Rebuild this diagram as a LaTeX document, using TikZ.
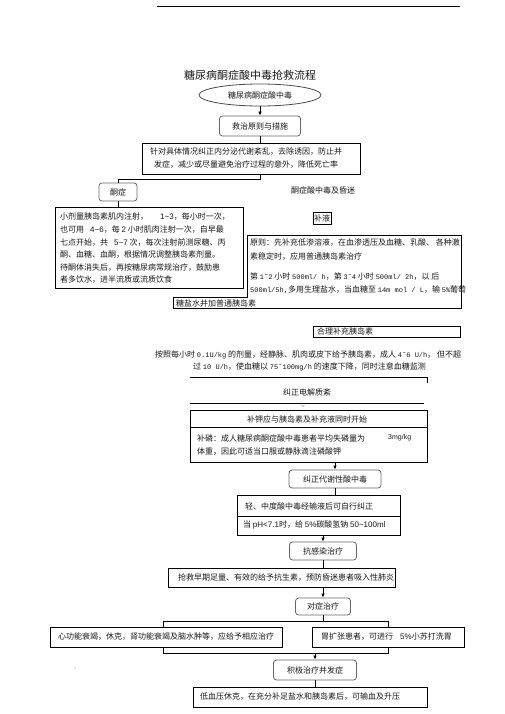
\documentclass[tikz,border=0pt]{standalone}
\usepackage{fontspec}
\setmainfont{Liberation Serif}
\newfontfamily\cjk{Noto Sans CJK SC}
\newfontfamily\sans{Liberation Sans}
\newfontfamily\mono{Liberation Mono}
\usetikzlibrary{shapes.geometric,arrows.meta,calc}
\newcommand\sn[1]{{\sans #1}}
\newcommand\mn[1]{{\mono\fontsize{7}{8}\selectfont #1}}
\newcommand\tld{\textasciitilde}
\begin{document}
\begin{tikzpicture}[x=1pt,y=-1pt,
  txt/.style={font=\cjk\fontsize{8}{9.6}\selectfont, inner sep=0pt, text=black!90},
  lt/.style={txt, anchor=west},
  rb/.style={draw=black!60, line width=0.8pt, rounded corners=3pt, txt},
  bx/.style={draw=black, line width=0.8pt, inner sep=0pt},
  ln/.style={line width=0.8pt},
  arr/.style={line width=0.8pt, -{Latex[length=4pt,width=3.5pt]}}]
\useasboundingbox (0,0) rectangle (505,714);
\fill[white] (0,0) rectangle (505,714);
% header rule
\coordinate (h1) at (157,7); \coordinate (h2) at (460,7);
\draw[line width=1pt] (h1) -- (h2);
% title
\node[txt, font=\cjk\fontsize{11}{13}\selectfont] (title) at (250,75) {糖尿病酮症酸中毒抢救流程};
% ellipse
\node[ellipse, draw=black!70, line width=0.8pt, txt, minimum width=122pt, minimum height=22pt] (e1) at (260,95) {糖尿病酮症酸中毒};
\node[rb, minimum width=81pt, minimum height=20pt] (b1) at (260,126) {救治原则与措施};
\draw[arr] (e1.south -| b1) -- (b1.north);
% box 2
\node[bx, minimum width=218pt, minimum height=31pt] (b2) at (251,158.5) {};
\node[lt] (b2a) at (150,152) {针对具体情况纠正内分泌代谢紊乱，去除诱因，防止并};
\node[lt] (b2b) at (154,165) {发症，减少或尽量避免治疗过程的意外，降低死亡率};
\draw[ln] (b1.south) -- (b1.south |- b2.north);
% ketosis branch
\node[rb, minimum width=38pt, minimum height=18pt] (b3) at (118,192) {酮症};
\coordinate (j1) at (118,179);
\draw[ln] (b2.south -| b1) |- (j1) -- (b3.north);
\node[bx, minimum width=188pt, minimum height=81pt] (b4) at (149,247.5) {};
\draw[ln] (b3.south) -- (b3.south |- b4.north);
\node[lt] (b4a) at (60,217) {小剂量胰岛素肌内注射，\hspace{12pt}\sn{1\tld3}，每小时一次，};
\node[lt] (b4b) at (60,230) {也可用\hspace{6pt}\sn{4\tld6}，每 \sn{2} 小时肌肉注射一次，自早最};
\node[lt] (b4c) at (60,243) {七点开始，共\hspace{6pt}\sn{5\tld7} 次，每次注射前测尿糖、丙};
\node[lt] (b4d) at (60,255) {酮、血糖、血酮，根据情况调整胰岛素剂量。};
\node[lt] (b4e) at (60,268) {待酮体消失后，再按糖尿病常规治疗，鼓励患};
\node[lt] (b4f) at (60,280) {者多饮水，进半流质或流质饮食};
% coma branch
\node[txt] (t1) at (323,190) {酮症酸中毒及昏迷};
\node[bx, minimum width=18pt, minimum height=12pt, txt] (b5) at (322,218) {补液};
\coordinate (p1) at (247,235); \coordinate (p2) at (461,235);
\coordinate (p3) at (461,308); \coordinate (p4) at (173,308);
\coordinate (p5) at (173,297); \coordinate (p6) at (247,297);
\draw[line width=0.8pt] (p1) -- (p2) -- (p3) -- (p4) -- (p5) -- (p6) -- cycle;
\node[lt] (b6a) at (250,243) {原则：先补充低渗溶液，在血渗透压及血糖、乳酸、 各种激};
\node[lt] (b6b) at (250,257) {素稳定时，应用普通胰岛素治疗};
\node[lt] (b6c) at (250,277) {第 \mn{1˜2} 小时 \mn{500ml/ h}，第 \mn{3˜4} 小时 \mn{500ml/ 2h}，以 后};
\node[lt] (b6d) at (250,290) {\mn{500ml/5h,}多用生理盐水，当血糖至 \mn{14m mol / L}，输 \mn{5\%}葡萄};
\node[lt] (b6e) at (176,303) {糖盐水并加普通胰岛素};
% insulin
\node[bx, minimum width=147pt, minimum height=11pt] (b7) at (386.5,331.5) {};
\node[lt] (b7a) at (317,331.5) {合理补充胰岛素};
\node[lt] (t2) at (155,355) {按照每小时 \mn{0.1U/kg} 的剂量，经静脉、肌肉或皮下给予胰岛素，成人 \mn{4˜6 U/h}， 但不超};
\node[lt] (t3) at (193,367) {过 \mn{10 U/h}，使血糖以 \mn{75˜100mg/h} 的速度下降，同时注意血糖监测};
\node[txt, font=\mono\fontsize{5}{5}\selectfont] (t4) at (303,372) {˜};
\coordinate (l1a) at (190,377); \coordinate (l1b) at (427,377); \coordinate (l1c) at (427,383);
\draw[ln] (l1a) -- (l1b) -- (l1c);
\node[txt] (t5) at (307,392) {纠正电解质紊};
\coordinate (l2a) at (190,403); \coordinate (l2b) at (424,403);
\draw[ln] (l2a) -- (l2b);
\node[txt, font=\mono\fontsize{6}{6}\selectfont] (t6) at (303,407) {\tld};
% potassium
\node[bx, minimum width=237pt, minimum height=52pt] (b8) at (308.5,436) {};
\draw[ln] ($(b8.north west)+(0,18)$) -- ($(b8.north east)+(0,18)$);
\node[txt] (b8a) at (307,419) {补钾应与胰岛素及补充液同时开始};
\node[lt] (b8b) at (197,438) {补磷：成人糖尿病酮症酸中毒患者平均失磷量为};
\node[lt, font=\sans\fontsize{7}{8}\selectfont] (b8c) at (388,438) {3mg/kg};
\node[lt] (b8d) at (197,452) {体重，因此可适当口服或静脉滴注磷酸钾};
% acidosis
\node[rb, minimum width=92pt, minimum height=18pt] (b9) at (335,479) {纠正代谢性酸中毒};
\draw[arr] (b8.south -| b9) -- (b9.north);
\node[bx, minimum width=163pt, minimum height=40pt] (b10) at (318.5,515) {};
\draw[ln] ($(b10.north west)+(0,22)$) -- ($(b10.north east)+(0,22)$);
\draw[ln] (b9.south) -- (b9.south |- b10.north);
\node[lt] (b10a) at (245,506) {轻、中度酸中毒经输液后可自行纠正};
\node[lt] (b10b) at (243,525) {当 \sn{pH<7.1}时，给 \sn{5\%}碳酸氢钠 \sn{50\tld100ml}};
% infection
\node[rb, minimum width=67pt, minimum height=18pt] (b11) at (323,551) {抗感染治疗};
\draw[arr] (b10.south -| b11) -- (b11.north);
\node[bx, minimum width=227pt, minimum height=19pt] (b12) at (281.5,577.5) {};
\node[lt] (b12a) at (178,578) {抢救早期足量、有效的给予抗生素，预防昏迷患者吸入性肺炎};
\draw[ln] (b11.south) -- (b11.south |- b12.north);
% symptomatic
\node[rb, minimum width=55pt, minimum height=17pt] (b13) at (323,606.5) {对症治疗};
\draw[arr] (b12.south -| b13) -- (b13.north);
\node[bx, minimum width=232pt, minimum height=20pt] (b14) at (166,637) {};
\node[lt] (b14a) at (58,637) {心功能衰竭，休克，肾功能衰竭及脑水肿等，应给予相应治疗};
\node[bx, minimum width=152pt, minimum height=20pt] (b15) at (388,637) {};
\node[lt] (b15a) at (321,637) {胃扩张患者，可进行\hspace{7pt}\sn{5\%}小苏打洗胃};
\coordinate (j2l) at (163,621); \coordinate (j2r) at (388,621);
\coordinate (j3l) at (163,653); \coordinate (j3r) at (388,653);
\draw[ln] (b13.south) -- (b13.south |- j2l);
\draw[ln] (j2l |- b14.north) -- (j2l) -- (j2r) -- (j2r |- b15.north);
\draw[ln] (j2l |- b14.south) -- (j3l) -- (j3r) -- (j2r |- b15.south);
% complications
\node[rb, minimum width=83pt, minimum height=20pt] (b16) at (315,670) {积极治疗并发症};
\draw[arr] (b16.north |- j3l) -- (b16.north);
\node[bx, minimum width=234pt, minimum height=20pt] (b17) at (310,697) {};
\node[lt] (b17a) at (200,697) {低血压休克，在充分补足盐水和胰岛素后，可输血及升压};
\draw[ln] (b16.south) -- (b16.south |- b17.north);
% stray dot
\fill[black!40] (75,668) circle (0.6pt);
\end{tikzpicture}
\end{document}
